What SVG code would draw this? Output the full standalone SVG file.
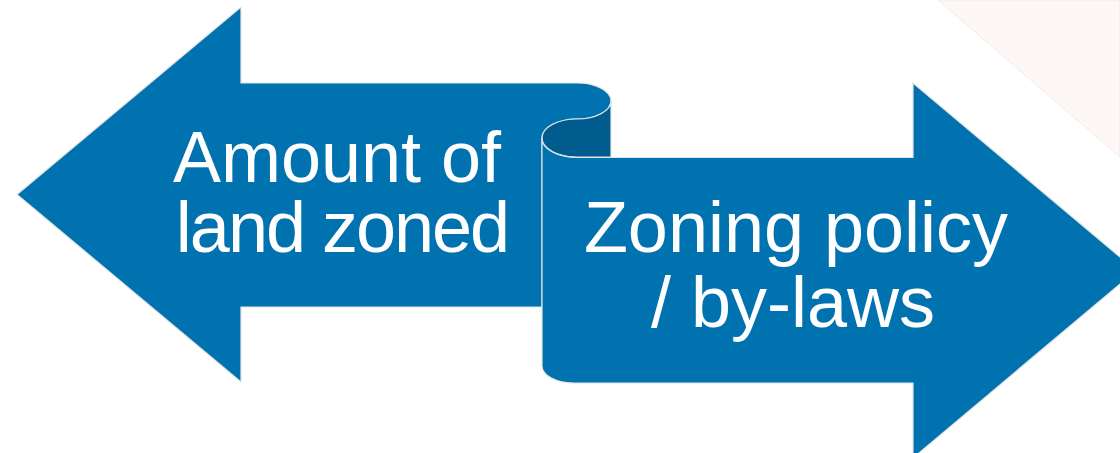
<svg xmlns="http://www.w3.org/2000/svg" width="1120" height="453" viewBox="0 0 1120 453">
<style>
.band{fill:#0072AF;stroke:#e4e4e4;stroke-width:1.2;stroke-linejoin:miter}
.back{fill:#005B8E;stroke:#e4e4e4;stroke-width:1.2}
.lbl{font-family:"Liberation Sans",Arial,sans-serif;font-size:72px;fill:#ffffff;text-anchor:middle}
</style>
<rect width="1120" height="453" fill="#ffffff"/>
<polygon id="corner" points="938,0 1120,0 1120,157" fill="#fdf8f6" stroke="#eadfdb" stroke-width="0.6"/>
<g id="left-arrow">
<path class="band" d="M17,194.5 L241,7 L241,83 L577,83 A34,18 0 0 1 611,101 A34,18 0 0 1 577,119 A35,19 0 0 0 542,138 L542,307 L241,307 L241,382 Z"/>
<text class="lbl" x="337" y="182">Amount of</text>
<text class="lbl" x="342" y="252" letter-spacing="-2">land zoned</text>
</g>
<g id="scroll-back">
<path class="back" d="M611,101 A34,18 0 0 1 577,119 A35,19 0 0 0 542,138 A35,19 0 0 0 577,157 L611,157 Z"/>
</g>
<g id="right-arrow">
<path class="band" d="M542,138 A35,19 0 0 0 577,157.5 L913,157.5 L913,83 L1136,270.5 L913,458 L913,383 L574,383 A32,17 0 0 1 542,366 Z"/>
<text class="lbl" x="796" y="252">Zoning policy</text>
<text class="lbl" x="793" y="327">/ by-laws</text>
</g>
</svg>
